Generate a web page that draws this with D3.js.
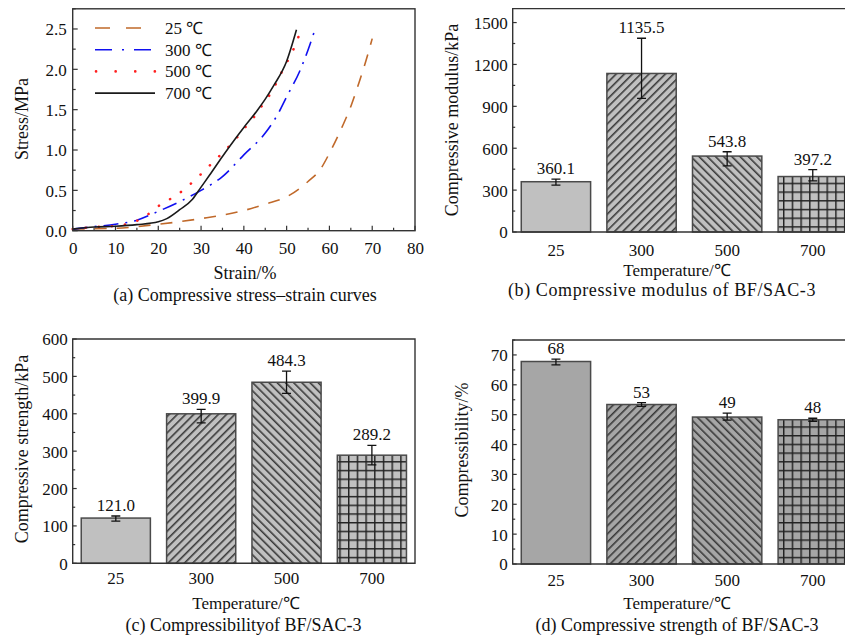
<!DOCTYPE html>
<html>
<head>
<meta charset="utf-8">
<script src="https://d3js.org/d3.v7.min.js"></script>
<style>
  body { margin: 0; background: #fff; }
  svg text { font-family: "Liberation Serif", "Times New Roman", serif; font-size: 17px; fill: #111; }
  svg text.title { font-size: 18px; }
  svg text.caption { font-size: 18px; }
  .frame { fill: none; stroke: #333; stroke-width: 1.4; }
</style>
</head>
<body>
<svg id="chart" width="845" height="637"></svg>
<script>
// ---- (a) stress-strain curves ----
var strain25 = [0, 10, 20, 30, 40, 45, 50, 55, 58, 60, 63, 65, 67, 68.5, 70];
var stress25 = [0.02, 0.03, 0.08, 0.15, 0.25, 0.33, 0.42, 0.61, 0.77, 0.96, 1.29, 1.54, 1.85, 2.10, 2.38];
var strain300 = [0, 5, 10, 15, 20, 25, 30, 35, 40, 45, 48, 50, 53, 55, 56.6];
var stress300 = [0.02, 0.05, 0.08, 0.13, 0.24, 0.36, 0.50, 0.67, 0.94, 1.21, 1.45, 1.66, 1.97, 2.24, 2.49];
var strain500 = [0, 5, 10, 14, 17, 19, 21.2, 23.8, 26.2, 28.8, 31.1, 33.4, 35.7, 38, 40.3, 42.4, 44.5, 46.7, 48.4, 50.2, 51.7, 53.1];
var stress500 = [0.02, 0.045, 0.06, 0.10, 0.18, 0.26, 0.35, 0.42, 0.52, 0.64, 0.76, 0.88, 1.00, 1.13, 1.28, 1.41, 1.57, 1.74, 1.92, 2.10, 2.26, 2.45];
var strain700 = [0, 5, 10, 15, 20, 22, 25, 28, 30, 32, 35, 38, 40, 43, 45, 47, 50, 52.3];
var stress700 = [0.02, 0.045, 0.055, 0.075, 0.11, 0.15, 0.26, 0.39, 0.54, 0.69, 0.92, 1.14, 1.28, 1.48, 1.63, 1.80, 2.10, 2.49];
var curveNames = ["25 \u2103", "300 \u2103", "500 \u2103", "700 \u2103"];

// ---- bar panels ----
var temps = ["25", "300", "500", "700"];
var modulus = [360.1, 1135.5, 543.8, 397.2];
var modulusUp = [19, 252, 31, 50];
var modulusDown = [24, 178, 70, 31];
var strength = [121.0, 399.9, 484.3, 289.2];
var strengthUp = [5.5, 12, 30, 26];
var strengthDown = [8, 24, 30, 26];
var compress = [67.8, 53.4, 49.2, 48.3];
var compressUp = [0.8, 0.6, 1.3, 0.5];
var compressDown = [1.1, 0.6, 1.0, 0.5];

var svg = d3.select("#chart");

// hatch patterns
var defs = svg.append("defs");
function hatch(id, angle, bg) {
  var p = defs.append("pattern").attr("id", id)
    .attr("patternUnits", "userSpaceOnUse")
    .attr("width", 5.8).attr("height", 5.8)
    .attr("patternTransform", "rotate(" + angle + ")");
  p.append("rect").attr("width", 5.8).attr("height", 5.8).attr("fill", bg);
  p.append("line").attr("x1", 0.8).attr("y1", 0).attr("x2", 0.8).attr("y2", 5.8)
    .attr("stroke", "#333").attr("stroke-width", 1.5);
}
function grid(id, bg) {
  var p = defs.append("pattern").attr("id", id)
    .attr("patternUnits", "userSpaceOnUse")
    .attr("width", 8.7).attr("height", 8.7);
  p.append("rect").attr("width", 8.7).attr("height", 8.7).attr("fill", bg);
  p.append("path").attr("d", "M0.7,0V8.7M0,0.7H8.7")
    .attr("fill", "none").attr("stroke", "#222").attr("stroke-width", 1.5);
}
hatch("fwdL", 45, "#c0c0c0");
hatch("backL", -45, "#c0c0c0");
grid("gridL", "#c0c0c0");
hatch("fwdD", 45, "#a6a6a6");
hatch("backD", -45, "#a6a6a6");
grid("gridD", "#a6a6a6");

function tickLabels(g, scale, orient, values, fmt) {
  var axis = (orient === "left" ? d3.axisLeft(scale) : d3.axisBottom(scale))
    .tickValues(values).tickSize(0).tickPadding(0).tickFormat(fmt);
  var ax = g.append("g").call(axis);
  ax.select(".domain").remove();
  ax.selectAll(".tick line").remove();
  ax.attr("font-size", null).attr("font-family", null);
  if (orient === "left") {
    ax.selectAll(".tick text").attr("x", -5).attr("dy", "0.35em");
  } else {
    ax.selectAll(".tick text").attr("y", 0).attr("dy", "0.35em");
  }
  return ax;
}

// ================= (a) =================
(function () {
  var x = d3.scaleLinear().domain([0, 80]).range([72.7, 415]);
  var y = d3.scaleLinear().domain([0, 2.75]).range([230.7, 8.8]);
  var g = svg.append("g");

  var xMinor = d3.range(0, 81, 5), yMinor = d3.range(0, 2.76, 0.25);
  g.selectAll(".xt").data(xMinor).enter().append("line")
    .attr("x1", function (d) { return x(d); }).attr("x2", function (d) { return x(d); })
    .attr("y1", y(0)).attr("y2", function (d) { return y(0) - (d % 10 === 0 ? 5 : 3); })
    .attr("stroke", "#333").attr("stroke-width", 1.2);
  g.selectAll(".yt").data(yMinor).enter().append("line")
    .attr("y1", function (d) { return y(d); }).attr("y2", function (d) { return y(d); })
    .attr("x1", x(0)).attr("x2", function (d, i) { return x(0) + (i % 2 === 0 ? 5 : 3); })
    .attr("stroke", "#333").attr("stroke-width", 1.2);

  tickLabels(g.append("g").attr("transform", "translate(0,248)"), x, "bottom", d3.range(0, 81, 10), d3.format("d"));
  var ya = tickLabels(g.append("g").attr("transform", "translate(" + x(0) + ",0)"), y, "left", d3.range(0, 2.51, 0.5), d3.format(".1f"));
  ya.selectAll(".tick text").attr("x", -6);

  var series = [
    { xs: strain25, ys: stress25, color: "#c0692a", dash: "12,10", width: 1.6, cap: "butt" },
    { xs: strain300, ys: stress300, color: "#1010f0", dash: "15,7,2,7", width: 1.6, cap: "butt" },
    { xs: strain500, ys: stress500, color: "#ff2020", dash: "0.1,13", width: 2.6, cap: "round" },
    { xs: strain700, ys: stress700, color: "#1a1a1a", dash: null, width: 1.6, cap: "butt" }
  ];
  var legendDash = ["15,16", "17,10,2,10", "0.1,19.5", null];
  var line = d3.line().x(function (d) { return x(d[0]); }).y(function (d) { return y(d[1]); })
    .curve(d3.curveMonotoneX);
  series.forEach(function (s) {
    var pts = s.xs.map(function (v, i) { return [v, s.ys[i]]; });
    g.append("path").attr("d", line(pts)).attr("fill", "none")
      .attr("stroke", s.color).attr("stroke-width", s.width)
      .attr("stroke-dasharray", s.dash).attr("stroke-linecap", s.cap);
  });

  // legend
  var leg = g.append("g");
  series.forEach(function (s, i) {
    var ly = 28 + i * 21.7;
    leg.append("line").attr("x1", 95).attr("x2", 155).attr("y1", ly).attr("y2", ly)
      .attr("stroke", s.color).attr("stroke-width", s.width)
      .attr("stroke-dasharray", legendDash[i])
      .attr("stroke-linecap", s.cap)
      .attr("stroke-dashoffset", i === 2 ? -1 : 0);
    leg.append("text").attr("x", 165).attr("y", ly).attr("dy", "0.35em").text(curveNames[i]);
  });

  g.append("rect").attr("class", "frame")
    .attr("x", x(0)).attr("y", y(2.75)).attr("width", x(80) - x(0)).attr("height", y(0) - y(2.75));

  g.append("text").attr("class", "title").attr("x", 245).attr("y", 273).attr("dy", "0.35em")
    .attr("text-anchor", "middle").text("Strain/%");
  g.append("text").attr("class", "title").attr("transform", "translate(22,119) rotate(-90)").attr("dy", "0.35em")
    .attr("text-anchor", "middle").text("Stress/MPa");
  g.append("text").attr("class", "caption").attr("x", 245).attr("y", 295).attr("dy", "0.35em")
    .attr("text-anchor", "middle").text("(a) Compressive stress\u2013strain curves");
})();

// ================= bar panels =================
function barPanel(o) {
  var g = svg.append("g");
  var x = d3.scaleBand().domain(temps).range(o.xr).paddingInner(0.19).paddingOuter(0.1);
  var y = d3.scaleLinear().domain([0, o.max]).range(o.yr);
  var fills = [o.solid, "url(#fwd" + o.k + ")", "url(#back" + o.k + ")", "url(#grid" + o.k + ")"];

  // ticks
  var minor = d3.range(0, o.max + 1e-9, o.step / 2);
  g.selectAll(".yt").data(minor).enter().append("line")
    .attr("y1", function (d) { return y(d); }).attr("y2", function (d) { return y(d); })
    .attr("x1", o.xr[0]).attr("x2", function (d, i) { return o.xr[0] + (i % 2 === 0 ? 4 : 2.5); })
    .attr("stroke", "#333").attr("stroke-width", 1.2);
  tickLabels(g.append("g").attr("transform", "translate(" + o.xr[0] + ",0)"), y, "left",
    d3.range(0, o.max + 1e-9, o.step).filter(function (d) { return d <= o.lastTick; }), d3.format("d"));

  g.selectAll(".bar").data(o.values).enter().append("rect")
    .attr("x", function (d, i) { return x(temps[i]); })
    .attr("width", x.bandwidth())
    .attr("y", function (d) { return y(d); })
    .attr("height", function (d) { return y(0) - y(d); })
    .attr("fill", function (d, i) { return fills[i]; })
    .attr("stroke", "#4a4a4a").attr("stroke-width", 1.5);

  // error bars, value labels, category labels
  o.values.forEach(function (v, i) {
    var cx = x(temps[i]) + x.bandwidth() / 2;
    var t = y(v + o.up[i]), b = y(v - o.down[i]);
    g.append("path").attr("d", "M" + cx + "," + t + "V" + b + "M" + (cx - 4.5) + "," + t + "H" + (cx + 4.5) +
      "M" + (cx - 4.5) + "," + b + "H" + (cx + 4.5))
      .attr("fill", "none").attr("stroke", "#111").attr("stroke-width", 1.3);
    g.append("text").attr("x", cx).attr("y", t - 11).attr("dy", "0.35em")
      .attr("text-anchor", "middle").text(o.fmt(v));
    g.append("text").attr("x", cx).attr("y", o.tickY).attr("dy", "0.35em")
      .attr("text-anchor", "middle").text(temps[i]);
  });

  // frame (right side may fall outside the page)
  var p = "M" + o.xr[1] + "," + y(0) + "H" + o.xr[0] + "V" + y(o.max) + "H" + o.xr[1] + "Z";
  g.append("path").attr("class", "frame").attr("d", p);

  g.append("text").attr("x", o.titleX).attr("y", o.titleY).attr("dy", "0.35em")
    .attr("text-anchor", "middle").text("Temperature/\u2103");
  g.append("text").attr("class", "title").attr("transform", "translate(" + o.yTitleX + "," + o.yTitleY + ") rotate(-90)")
    .attr("dy", "0.35em").attr("text-anchor", "middle").text(o.yTitle);
  g.append("text").attr("class", "caption").attr("x", o.capX).attr("y", o.capY).attr("dy", "0.35em")
    .attr("text-anchor", "middle").style("letter-spacing", o.capSpacing || null).text(o.caption);
}

barPanel({
  xr: [512.7, 856], yr: [232, 8.6], max: 1600, step: 300, lastTick: 1500, k: "L", solid: "#c0c0c0",
  values: modulus, up: modulusUp, down: modulusDown, fmt: d3.format(".1f"),
  tickY: 250, titleX: 677, titleY: 270, yTitleX: 452, yTitleY: 120,
  yTitle: "Compressive modulus/kPa", capX: 662, capY: 290, capSpacing: "0.6px",
  caption: "(b) Compressive modulus of BF/SAC-3"
});
barPanel({
  xr: [72.7, 415], yr: [563.3, 339], max: 600, step: 100, lastTick: 600, k: "L", solid: "#c0c0c0",
  values: strength, up: strengthUp, down: strengthDown, fmt: d3.format(".1f"),
  tickY: 578, titleX: 246, titleY: 603, yTitleX: 22, yTitleY: 449,
  yTitle: "Compressive strength/kPa", capX: 243.5, capY: 625,
  caption: "(c) Compressibilityof BF/SAC-3"
});
barPanel({
  xr: [512.7, 856], yr: [564, 340], max: 75, step: 10, lastTick: 70, k: "D", solid: "#a6a6a6",
  values: compress, up: compressUp, down: compressDown, fmt: d3.format(".0f"),
  tickY: 580, titleX: 677, titleY: 603, yTitleX: 462, yTitleY: 450,
  yTitle: "Compressibility/%", capX: 677, capY: 625,
  caption: "(d) Compressive strength of BF/SAC-3"
});
</script>
</body>
</html>
